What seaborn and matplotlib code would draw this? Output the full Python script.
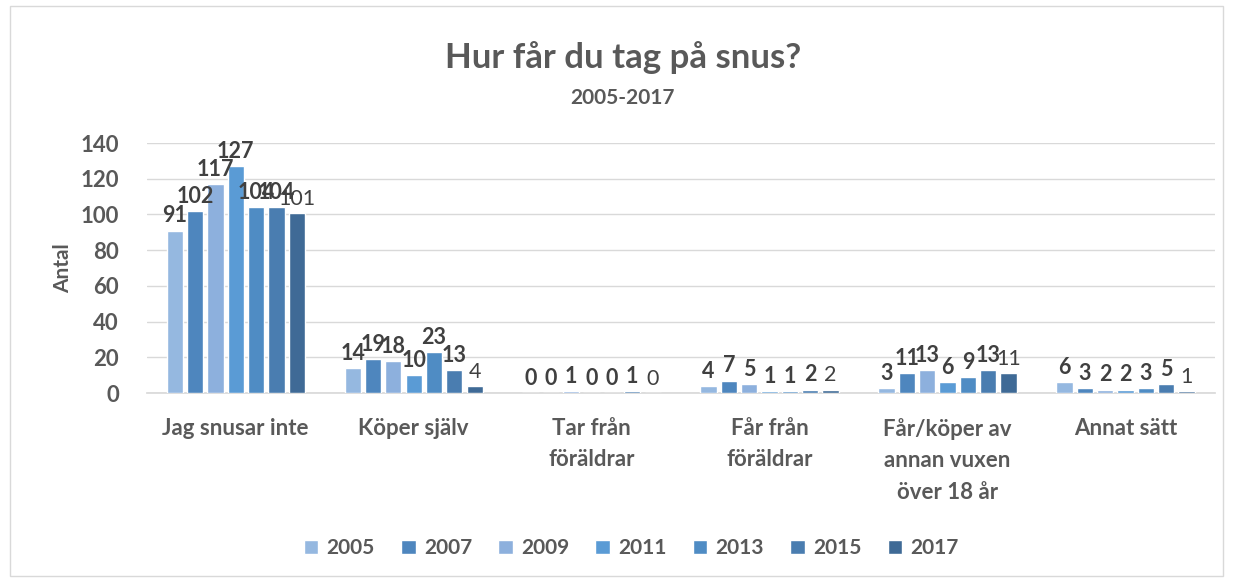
import matplotlib
matplotlib.use("Agg")
import matplotlib.pyplot as plt
import seaborn as sns
import pandas as pd
from matplotlib.patches import Rectangle

categories = ["Jag snusar inte", "Köper själv", "Tar från\nföräldrar", "Får från\nföräldrar",
              "Får/köper av\nannan vuxen\növer 18 år", "Annat sätt"]
years = ["2005", "2007", "2009", "2011", "2013", "2015", "2017"]
v2005 = [91, 14, 0, 4, 3, 6]
v2007 = [102, 19, 0, 7, 11, 3]
v2009 = [117, 18, 1, 5, 13, 2]
v2011 = [127, 10, 0, 1, 6, 2]
v2013 = [104, 23, 0, 1, 9, 3]
v2015 = [104, 13, 1, 2, 13, 5]
v2017 = [101, 4, 0, 2, 11, 1]
series = [v2005, v2007, v2009, v2011, v2013, v2015, v2017]
colors = ["#95B8E0", "#4E86BE", "#8DB0DD", "#5A9BD5", "#4F8CC4", "#4A7DB0", "#3F6A96"]

rows = []
for y, vals in zip(years, series):
    for c, v in zip(categories, vals):
        rows.append({"Kategori": c, "År": y, "Antal": v})
df = pd.DataFrame(rows)

sns.set_theme(style="white")
plt.rcParams["font.family"] = ["Lato", "DejaVu Sans"]
txt = "#595959"

fig = plt.figure(figsize=(12.33, 5.79), dpi=100)
fig.patches.append(Rectangle((0.008, 0.005), 0.984, 0.985, transform=fig.transFigure,
                             fill=False, edgecolor="#D9D9D9", linewidth=1))
ax = fig.add_axes([0.119, 0.321, 0.866, 0.432])
sns.barplot(data=df, x="Kategori", y="Antal", hue="År", palette=colors, ax=ax,
            width=0.8, gap=0.2, saturation=1, legend=True, zorder=3)

ax.set_ylim(0, 140)
ax.set_yticks(range(0, 141, 20))
ax.yaxis.grid(True, color="#D9D9D9", linewidth=1, zorder=0)
ax.set_axisbelow(True)
for s in ["top", "right", "left"]:
    ax.spines[s].set_visible(False)
ax.spines["bottom"].set_color("#D9D9D9")
ax.tick_params(axis="both", length=0, labelsize=16, colors=txt)
ax.tick_params(axis="y", pad=20)
ax.tick_params(axis="x", pad=18)
for lab in ax.get_yticklabels() + ax.get_xticklabels():
    lab.set_fontweight("bold")
for lab in ax.get_xticklabels():
    lab.set_verticalalignment("top")
    lab.set_linespacing(1.6)
ax.set_xlabel("")
ax.set_ylabel("Antal", fontsize=15, fontweight="bold", color=txt, labelpad=5)

for i, cont in enumerate(ax.containers):
    bold = i < 6
    ax.bar_label(cont, fmt="%d", padding=3, fontsize=15.5,
                 fontweight="bold" if bold else "normal", color="#404040",
                 clip_on=False)

handles, labels = ax.get_legend_handles_labels()
ax.legend_.remove()
leg = fig.legend(handles, labels, loc="center", bbox_to_anchor=(0.512, 0.053), ncol=7,
                 frameon=False, fontsize=15, handlelength=0.7, handleheight=0.7,
                 columnspacing=1.25, handletextpad=0.4)
for t in leg.get_texts():
    t.set_fontweight("bold")
    t.set_color(txt)

fig.text(0.505, 0.90, "Hur får du tag på snus?", ha="center", va="center",
         fontsize=25, fontweight="bold", color=txt)
fig.text(0.505, 0.83, "2005-2017", ha="center", va="center",
         fontsize=15, fontweight="bold", color=txt)

fig.savefig("out.png", dpi=100)
